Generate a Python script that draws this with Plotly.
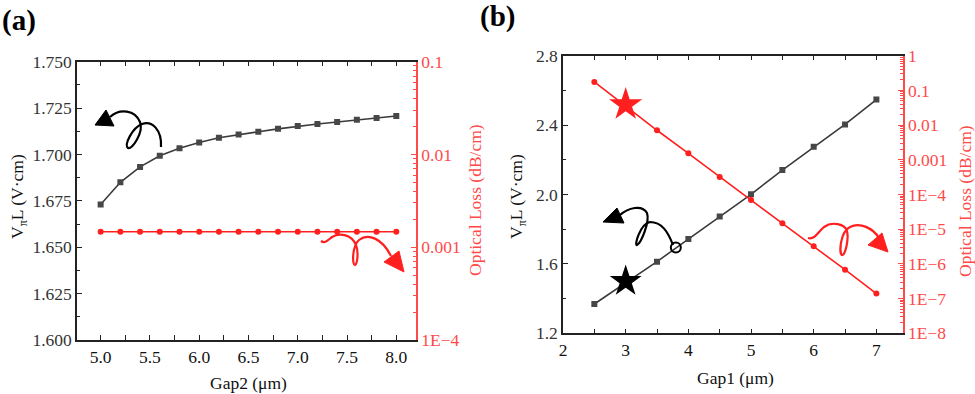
import numpy as np
import plotly.graph_objects as go

W, H = 975, 394

# ---------------- data ----------------
gap2 = [5.0, 5.2, 5.4, 5.6, 5.8, 6.0, 6.2, 6.4, 6.6, 6.8, 7.0, 7.2, 7.4, 7.6, 7.8, 8.0]
vpil_a = [1.673, 1.685, 1.6933, 1.6993, 1.7034, 1.7065, 1.709, 1.7108, 1.7122,
          1.7138, 1.7153, 1.7164, 1.7175, 1.7187, 1.7196, 1.7207]
loss_a = [0.00147] * 16

gap1 = [2.5, 3.0, 3.5, 4.0, 4.5, 5.0, 5.5, 6.0, 6.5, 7.0]
vpil_b = [1.369, 1.491, 1.613, 1.743, 1.873, 2.001, 2.141, 2.275, 2.404, 2.547]
loss_b = [0.175, 0.035, 0.0071, 0.00154, 3.2e-4, 6.9e-5, 1.48e-5, 3.2e-6, 6.8e-7, 1.4e-7]

# highlighted design points in (b)
star_gap1 = [3.0]
star_vpil = [1.5]
star_loss = [0.039]
circle_gap1 = [3.8]
circle_vpil = [1.694]

log_tick_a = [1e-4, 1e-3, 1e-2, 1e-1]
log_text_a = ["1E\u22124", "0.001", "0.01", "0.1"]
log_tick_b = [1e-8, 1e-7, 1e-6, 1e-5, 1e-4, 1e-3, 1e-2, 1e-1, 1]
log_text_b = ["1E\u22128", "1E\u22127", "1E\u22126", "1E\u22125", "1E\u22124",
              "0.001", "0.01", "0.1", "1"]

FONT = "Liberation Serif, Times New Roman, serif"
FS = 17.5
BLACK_LINE = "#3a3a3a"
BLACK_MK = "#474747"
RED = "#ff1f1f"
RED_AX = "#ff4a4a"
TXT = "#333333"


def minor_logs(lo, hi):
    vals = []
    for e in range(lo, hi):
        for m in range(2, 10):
            vals.append(m * 10.0 ** e)
    return vals


fig = go.Figure()

fig.add_trace(go.Scatter(x=gap2, y=vpil_a, xaxis="x", yaxis="y", mode="lines+markers",
                         line=dict(color=BLACK_LINE, width=1.6),
                         marker=dict(symbol="square", size=6, color=BLACK_MK), showlegend=False))
fig.add_trace(go.Scatter(x=gap2, y=loss_a, xaxis="x", yaxis="y2", mode="lines+markers",
                         line=dict(color=RED, width=1.6),
                         marker=dict(symbol="circle", size=6, color=RED), showlegend=False))
fig.add_trace(go.Scatter(x=gap1, y=vpil_b, xaxis="x2", yaxis="y3", mode="lines+markers",
                         line=dict(color=BLACK_LINE, width=1.6),
                         marker=dict(symbol="square", size=6, color=BLACK_MK), showlegend=False))
fig.add_trace(go.Scatter(x=gap1, y=loss_b, xaxis="x2", yaxis="y4", mode="lines+markers",
                         line=dict(color=RED, width=1.6),
                         marker=dict(symbol="circle", size=6, color=RED), showlegend=False))
# stars and circle
fig.add_trace(go.Scatter(x=star_gap1, y=star_vpil, xaxis="x2", yaxis="y3", mode="markers",
                         marker=dict(symbol="star", size=24, color="black", line=dict(width=0)),
                         showlegend=False))
fig.add_trace(go.Scatter(x=star_gap1, y=star_loss, xaxis="x2", yaxis="y4", mode="markers",
                         marker=dict(symbol="star", size=25, color=RED, line=dict(width=0)),
                         showlegend=False))
fig.add_trace(go.Scatter(x=circle_gap1, y=circle_vpil, xaxis="x2", yaxis="y3", mode="markers",
                         marker=dict(symbol="circle-open", size=10, color="black",
                                     line=dict(width=2, color="black")),
                         showlegend=False))

tickfont = dict(family=FONT, size=FS, color=TXT)
redfont = dict(family=FONT, size=FS, color=RED_AX)

common_x = dict(showline=True, linecolor="#222", linewidth=1.5, mirror="allticks",
                ticks="inside", ticklen=5, tickwidth=1.2, tickcolor="#222",
                showgrid=False, zeroline=False, automargin=False,
                tickfont=dict(family=FONT, size=FS, color="#111"))
common_yl = dict(showline=True, linecolor="#222", linewidth=1.5, ticks="inside",
                 ticklen=5, tickwidth=1.2, tickcolor="#222", showgrid=False,
                 zeroline=False, automargin=False, tickfont=tickfont)
common_yr = dict(showline=True, linecolor=RED_AX, linewidth=1.5, ticks="inside",
                 ticklen=5, tickwidth=1.2, tickcolor=RED_AX, showgrid=False,
                 zeroline=False, automargin=False, tickfont=redfont, side="right",
                 type="log")

dxa = [77 / W, 416 / W]
dya = [1 - 340 / H, 1 - 61.7 / H]
dxb = [563 / W, 902.7 / W]
dyb = [1 - 333.3 / H, 1 - 55.7 / H]

fig.update_layout(
    width=W, height=H, margin=dict(l=0, r=0, t=0, b=0),
    paper_bgcolor="white", plot_bgcolor="white",
    font=dict(family=FONT, size=FS, color=TXT),
    xaxis=dict(domain=dxa, anchor="y", range=[4.76, 8.2], dtick=0.5, tick0=5,
               tickformat=".1f",
               minor=dict(dtick=0.25, ticks="inside", ticklen=3, tickcolor="#222"),
               **common_x),
    yaxis=dict(domain=dya, anchor="x", range=[1.6, 1.75], dtick=0.025, tick0=1.6,
               tickformat=".3f",
               minor=dict(dtick=0.0125, ticks="inside", ticklen=3, tickcolor="#222"),
               **common_yl),
    yaxis2=dict(overlaying="y", anchor="x", range=[-4, -1], tickvals=log_tick_a,
                ticktext=log_text_a,
                minor=dict(tickvals=minor_logs(-4, -1), ticks="inside", ticklen=3,
                           tickcolor=RED_AX),
                **common_yr),
    xaxis2=dict(domain=dxb, anchor="y3", range=[2, 7.42], dtick=1, tick0=2,
                minor=dict(dtick=0.5, ticks="inside", ticklen=3, tickcolor="#222"),
                **common_x),
    yaxis3=dict(domain=dyb, anchor="x2", range=[1.2, 2.8], dtick=0.4, tick0=1.2,
                tickformat=".1f",
                minor=dict(dtick=0.2, ticks="inside", ticklen=3, tickcolor="#222"),
                **common_yl),
    yaxis4=dict(overlaying="y3", anchor="x2", range=[-8, 0], tickvals=log_tick_b,
                ticktext=log_text_b,
                minor=dict(tickvals=minor_logs(-8, 0), ticks="inside", ticklen=3,
                           tickcolor=RED_AX),
                **common_yr),
)


def px(x, y):
    return x / W, 1 - y / H


def path_from(points, cmd):
    s = ""
    for c, pts in zip(cmd, points):
        s += c + " " + " ".join("%.5f,%.5f" % px(*p) for p in pts) + " "
    return s.strip()


def curve(points, color):
    # points: start then triples for cubic beziers (pixel coords)
    cmds = ["M"] + ["C"] * ((len(points) - 1) // 3)
    groups = [[points[0]]] + [points[1 + 3 * i:4 + 3 * i] for i in range((len(points) - 1) // 3)]
    fig.add_shape(type="path", xref="paper", yref="paper",
                  path=path_from(groups, cmds), line=dict(color=color, width=2.2),
                  fillcolor="rgba(0,0,0,0)")


def head(tri, color):
    s = "M " + " L ".join("%.5f,%.5f" % px(*p) for p in tri) + " Z"
    fig.add_shape(type="path", xref="paper", yref="paper", path=s,
                  line=dict(color=color, width=1), fillcolor=color)


# (a) black curly arrow
curve([(161, 147), (162, 130), (152, 120), (142, 124),
       (132, 128), (124, 145), (128, 148),
       (132, 150), (144, 132), (140, 122),
       (135, 110), (120, 108), (110, 117)], "black")
head([(95, 125), (106, 110), (114, 126)], "black")

# (a) red curly arrow
curve([(321, 241), (325, 244), (328, 240), (332, 237),
       (340, 232), (352, 235), (356, 245),
       (359, 253), (357, 265), (355, 265),
       (352, 265), (352, 246), (359, 240),
       (368, 233), (382, 238), (391, 256)], RED)
head([(384, 262), (399, 251), (404, 272)], RED)

# (b) black curly arrow
curve([(673, 245), (668, 232), (662, 222), (650, 222),
       (640, 224), (634, 246), (637, 245),
       (641, 243), (650, 222), (647, 213),
       (642, 204), (628, 208), (620, 215)], "black")
head([(603, 222), (617, 208), (624, 223)], "black")

# (b) red curly arrow
curve([(808, 238), (815, 240), (818, 232), (824, 227),
       (832, 221), (845, 224), (847, 231),
       (849, 240), (845, 256), (842, 255),
       (839, 253), (840, 232), (850, 227),
       (860, 222), (873, 228), (879, 238)], RED)
head([(868, 245), (882, 233), (888, 252)], RED)


def ann(x, y, text, angle=0, size=FS, color=TXT):
    fx, fy = px(x, y)
    fig.add_annotation(x=fx, y=fy, xref="paper", yref="paper", text=text,
                       showarrow=False, textangle=angle, xanchor="center", yanchor="middle",
                       font=dict(family=FONT, size=size, color=color))


ann(19, 21, "<b>(a)</b>", size=29, color="black")
ann(497, 16, "<b>(b)</b>", size=29, color="black")
ann(248, 383, "Gap2 (μm)", color="#111")
ann(735, 378, "Gap1 (μm)", color="#111")
ann(18, 197, "V<sub>π</sub>L (V·cm)", angle=-90, color="#111")
ann(517, 197, "V<sub>π</sub>L (V·cm)", angle=-90, color="#111")
ann(475, 200, "Optical Loss (dB/cm)", angle=-90, color=RED_AX)
ann(965, 201, "Optical Loss (dB/cm)", angle=-90, color=RED_AX)

fig.write_html("out.html", config={"displayModeBar": False},
               post_script="document.body.style.margin='0';document.body.style.padding='0';")
